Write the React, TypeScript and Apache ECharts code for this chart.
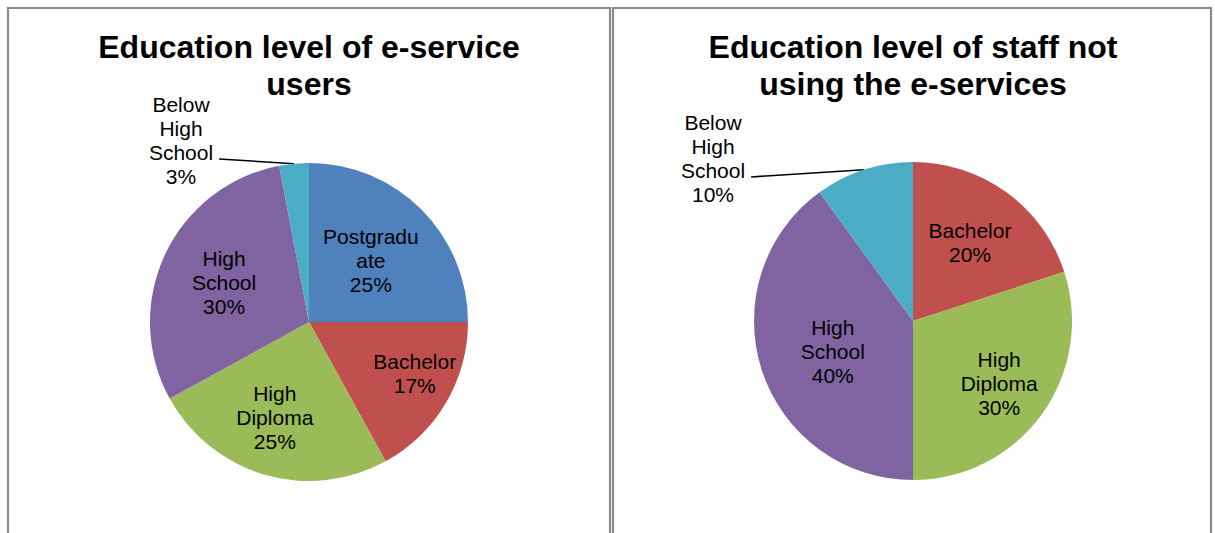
import React, { useEffect, useRef } from "react";
import * as echarts from "echarts";

// ---- Data ----
const leftTitle = "Education level of e-service\nusers";
const rightTitle = "Education level of staff not\nusing the e-services";
const leftCategories = ["Postgraduate", "Bachelor", "High Diploma", "High School", "Below High School"];
const leftValues = [25, 17, 25, 30, 3];
const rightCategories = ["Bachelor", "High Diploma", "High School", "Below High School"];
const rightValues = [20, 30, 40, 10];

// ---- Styles / layout ----
const COLORS: Record<string, string> = {
  Postgraduate: "#4F81BD",
  Bachelor: "#C0504D",
  "High Diploma": "#9BBB59",
  "High School": "#8064A2",
  "Below High School": "#4BACC6",
};
const FONT = "'Liberation Sans', Arial, sans-serif";
const R = 159;
const LEFT_CENTER = [309, 322];
const RIGHT_CENTER = [913, 321];
// radial position of inside labels (fraction of radius); >= 1 means outside label
const leftLabelRatio = [0.55, 0.74, 0.64, 0.59, 1];
const rightLabelRatio = [0.61, 0.67, 0.54, 1];
// small angular nudges of inside labels (radians)
const leftLabelTurn = [0, -0.08, 0.06, 0, 0];
const rightLabelTurn = [0, 0, -0.05, 0];
const leftOutsideOffset = [-128, -182];
const rightOutsideOffset = [-200, -163];

function wrap(name: string): string {
  return name
    .split(" ")
    .flatMap((w) => (w.length > 9 ? [w.slice(0, 9), w.slice(9)] : [w]))
    .join("\n");
}

function makeLayout(values: number[], center: number[], ratios: number[], turns: number[], outsideOffset: number[]) {
  const total = values.reduce((a, b) => a + b, 0);
  return (p: any) => {
    const i = p.dataIndex;
    let cum = 0;
    for (let j = 0; j < i; j++) cum += values[j];
    const mid = ((cum + values[i] / 2) / total) * Math.PI * 2;
    const ratio = ratios[i];
    if (ratio >= 1) {
      const x = center[0] + outsideOffset[0];
      const y = center[1] + outsideOffset[1];
      const ax = center[0] + R * Math.sin(mid);
      const ay = center[1] - R * Math.cos(mid);
      const sx = x + p.labelRect.width / 2 + 6;
      const sy = y + 19;
      return {
        x,
        y,
        align: "center",
        verticalAlign: "middle",
        labelLinePoints: [
          [ax, ay],
          [sx, sy],
          [sx, sy],
        ],
      };
    }
    const a = mid + turns[i];
    return {
      x: center[0] + ratio * R * Math.sin(a),
      y: center[1] - ratio * R * Math.cos(a),
      align: "center",
      verticalAlign: "middle",
    };
  };
}

function buildSeries(
  categories: string[],
  values: number[],
  center: number[],
  ratios: number[],
  turns: number[],
  offset: number[]
) {
  return {
    type: "pie",
    center,
    radius: [0, R],
    startAngle: 90,
    clockwise: true,
    avoidLabelOverlap: false,
    silent: true,
    emphasis: { disabled: true },
    itemStyle: { borderWidth: 0 },
    label: {
      show: true,
      position: "inside",
      color: "#000",
      fontFamily: FONT,
      fontSize: 21,
      lineHeight: 24,
      align: "center",
      formatter: (p: any) => `${wrap(p.name)}\n${Math.round(p.percent)}%`,
    },
    labelLine: { show: false },
    labelLayout: makeLayout(values, center, ratios, turns, offset),
    data: categories.map((c, i) => {
      const item: any = { name: c, value: values[i], itemStyle: { color: COLORS[c] } };
      if (ratios[i] >= 1) {
        item.label = { position: "outside" };
        item.labelLine = {
          show: true,
          length: 10,
          length2: 10,
          lineStyle: { color: "#000", width: 1.6 },
        };
      }
      return item;
    }),
  };
}

export default function App() {
  const ref = useRef<HTMLDivElement>(null);
  useEffect(() => {
    if (!ref.current) return;
    const chart = echarts.init(ref.current, null, { renderer: "svg" });
    const titleStyle = {
      fontFamily: FONT,
      fontSize: 32,
      fontWeight: "bold",
      lineHeight: 37,
      fill: "#000",
      align: "center",
      verticalAlign: "top",
    };
    chart.setOption({
      animation: false,
      backgroundColor: "#fff",
      graphic: [
        {
          type: "rect",
          z: -1,
          shape: { x: 8, y: 8, width: 602, height: 600 },
          style: { fill: "#fff", stroke: "#8a8a8a", lineWidth: 2.2 },
        },
        {
          type: "rect",
          z: -1,
          shape: { x: 613, y: 8, width: 598, height: 600 },
          style: { fill: "#fff", stroke: "#8a8a8a", lineWidth: 2.2 },
        },
        { type: "text", x: LEFT_CENTER[0], y: 28, style: { ...titleStyle, text: leftTitle } },
        { type: "text", x: RIGHT_CENTER[0], y: 28, style: { ...titleStyle, text: rightTitle } },
      ],
      series: [
        buildSeries(leftCategories, leftValues, LEFT_CENTER, leftLabelRatio, leftLabelTurn, leftOutsideOffset),
        buildSeries(rightCategories, rightValues, RIGHT_CENTER, rightLabelRatio, rightLabelTurn, rightOutsideOffset),
      ],
    });
    return () => chart.dispose();
  }, []);
  return (
    <div
      ref={ref}
      style={{ position: "absolute", left: 0, top: 0, width: 1215, height: 533, background: "#fff" }}
    />
  );
}
